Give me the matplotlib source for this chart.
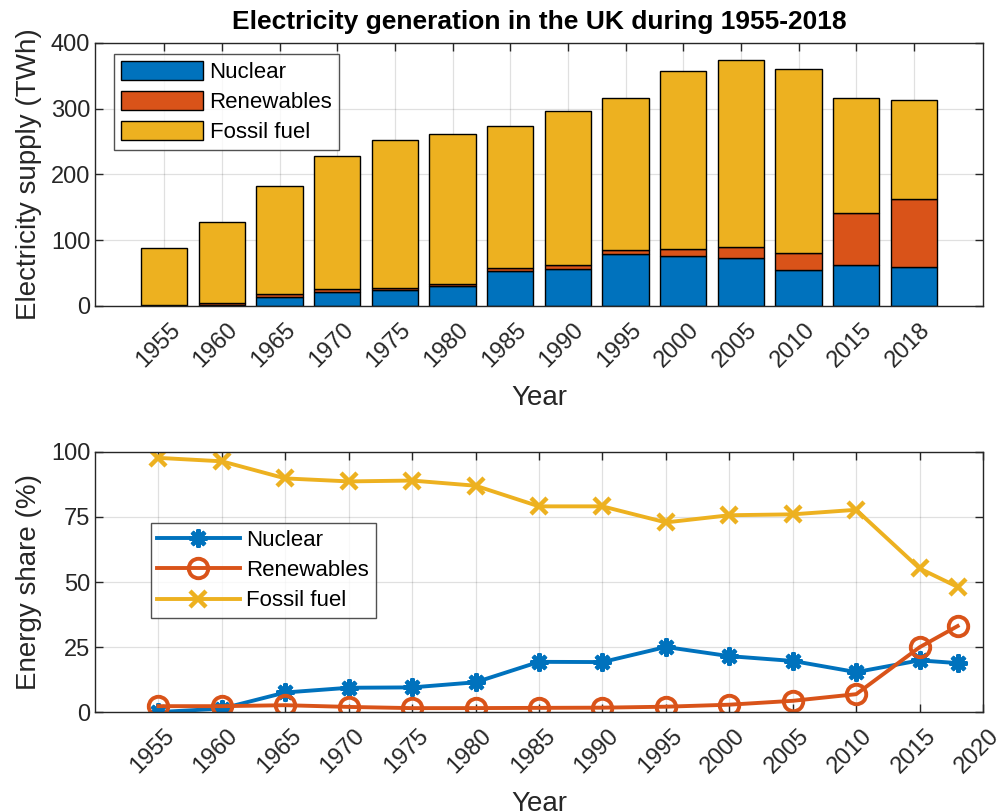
import numpy as np
import matplotlib
matplotlib.use('Agg')
import matplotlib.pyplot as plt
from matplotlib.transforms import ScaledTranslation

plt.rcParams['font.family'] = ['Liberation Sans', 'DejaVu Sans']

# Data (TWh)
years = [1955, 1960, 1965, 1970, 1975, 1980, 1985, 1990, 1995, 2000, 2005, 2010, 2015, 2018]
nuclear = [0.0, 1.7, 13.7, 21.3, 23.9, 30.0, 52.8, 56.9, 79.0, 76.7, 73.6, 55.4, 63.0, 58.9]
renewables = [2.0, 2.9, 4.8, 4.5, 3.8, 4.0, 4.4, 5.0, 6.5, 10.1, 16.2, 24.8, 79.0, 103.5]
fossil = [86.3, 123.4, 163.5, 202.2, 224.3, 228.0, 216.3, 234.1, 230.2, 270.0, 284.7, 280.6, 175.0, 150.6]
labels = ['Nuclear', 'Renewables', 'Fossil fuel']

c_blue = '#0072BD'
c_red = '#D95319'
c_yel = '#EDB120'
axcol = '#262626'

fig = plt.figure(figsize=(9.98, 8.11), dpi=100)


def style_axes(ax):
    for s in ax.spines.values():
        s.set_color(axcol)
        s.set_linewidth(1.0)
    ax.tick_params(direction='in', length=6, width=1.0, color=axcol,
                   top=True, right=True, labelsize=17, labelcolor=axcol)
    ax.grid(True, color='#000000', alpha=0.12, linewidth=0.9)
    ax.set_axisbelow(True)
    ax.tick_params(axis='x', pad=9)
    # nudge the rotated labels a bit to the right, like matlab does
    shift = ScaledTranslation(5 / 100, 0, fig.dpi_scale_trans)
    for lab in ax.get_xticklabels():
        lab.set_transform(lab.get_transform() + shift)


# top: stacked bars
ax1 = fig.add_axes([0.0952, 0.6227, 0.8898, 0.3243])
pos = np.arange(len(years))
nuc = np.array(nuclear)
ren = np.array(renewables)
fos = np.array(fossil)
ax1.bar(pos, nuc, 0.8, color=c_blue, edgecolor='black', linewidth=1.0, label=labels[0])
ax1.bar(pos, ren, 0.8, bottom=nuc, color=c_red, edgecolor='black', linewidth=1.0, label=labels[1])
ax1.bar(pos, fos, 0.8, bottom=nuc + ren, color=c_yel, edgecolor='black', linewidth=1.0, label=labels[2])
ax1.set_xlim(-1.2, len(years) - 1 + 1.2)
ax1.set_ylim(0, 400)
ax1.set_yticks([0, 100, 200, 300, 400])
ax1.set_xticks(pos)
ax1.set_xticklabels([str(y) for y in years], rotation=45, ha='right', va='top',
                    rotation_mode='anchor')
style_axes(ax1)
ax1.set_xlabel('Year', fontsize=20, color=axcol, labelpad=10)
ax1.set_ylabel('Electricity supply (TWh)', fontsize=20, color=axcol, labelpad=6)
ax1.set_title('Electricity generation in the UK during 1955-2018', fontsize=19,
              fontweight='bold', color='black', pad=10)
leg1 = ax1.legend(loc='upper left', bbox_to_anchor=(0.0214, 0.958), fontsize=16,
                  frameon=True, fancybox=False, edgecolor=axcol, handlelength=3.7,
                  handleheight=0.95, borderpad=0.3, labelspacing=0.36, handletextpad=0.3,
                  borderaxespad=0)
leg1.get_frame().set_linewidth(1.0)

# bottom: shares
total = nuc + ren + fos
ax2 = fig.add_axes([0.0952, 0.1220, 0.8898, 0.3207])
ax2.plot(years, nuc / total * 100, color=c_blue, lw=2.8, marker=(8, 2, 0), ms=13,
         mew=3, label=labels[0])
ax2.plot(years, ren / total * 100, color=c_red, lw=2.8, marker='o', ms=14,
         mfc='none', mew=2.8, label=labels[1])
ax2.plot(years, fos / total * 100, color=c_yel, lw=2.8, marker='x', ms=11,
         mew=3.2, label=labels[2])
ax2.set_xlim(1950, 2020)
ax2.set_ylim(0, 100)
ax2.set_yticks([0, 25, 50, 75, 100])
ax2.set_xticks(np.arange(1955, 2021, 5))
ax2.set_xticklabels([str(y) for y in range(1955, 2021, 5)], rotation=45, ha='right',
                    va='top', rotation_mode='anchor')
style_axes(ax2)
ax2.set_xlabel('Year', fontsize=20, color=axcol, labelpad=10)
ax2.set_ylabel('Energy share (%)', fontsize=20, color=axcol, labelpad=6)
leg2 = ax2.legend(loc='upper left', bbox_to_anchor=(0.0627, 0.727), fontsize=16,
                  frameon=True, fancybox=False, edgecolor=axcol, handlelength=3.7,
                  borderpad=0.3, labelspacing=0.42, handletextpad=0.3, borderaxespad=0)
leg2.get_frame().set_linewidth(1.0)

fig.savefig('out.png', dpi=100, facecolor='white')
